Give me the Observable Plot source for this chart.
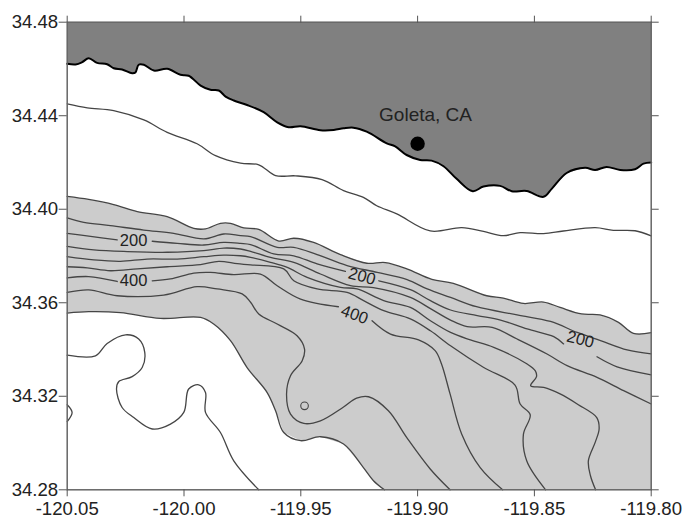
<!DOCTYPE html>
<html>
<head>
<meta charset="utf-8">
<script src="https://cdn.jsdelivr.net/npm/d3@7"></script>
<script src="https://cdn.jsdelivr.net/npm/@observablehq/plot@0.6"></script>
<style>html,body{margin:0;padding:0;background:#fff}svg{display:block}</style>
</head>
<body>
<div id="chart"></div>
<script>
const xTicks = [-120.05, -120.00, -119.95, -119.90, -119.85, -119.80];
const yTicks = [34.28, 34.32, 34.36, 34.40, 34.44, 34.48];

const coast = [[-120.05,34.4622],[-120.0464,34.4619],[-120.0436,34.4629],[-120.0408,34.4646],[-120.0372,34.4626],[-120.0329,34.462],[-120.0301,34.4603],[-120.0265,34.4598],[-120.0222,34.4582],[-120.0208,34.4585],[-120.0194,34.4618],[-120.0172,34.4618],[-120.0129,34.4593],[-120.0072,34.4601],[-120.0015,34.4575],[-119.998,34.4571],[-119.9929,34.4529],[-119.9887,34.4511],[-119.9851,34.4508],[-119.9822,34.4482],[-119.9787,34.4465],[-119.973,34.4446],[-119.9659,34.4415],[-119.9601,34.4372],[-119.9552,34.4351],[-119.9501,34.4355],[-119.9416,34.4338],[-119.9359,34.4339],[-119.9317,34.4346],[-119.9275,34.4349],[-119.9218,34.4332],[-119.9132,34.4282],[-119.9096,34.4269],[-119.9047,34.4232],[-119.8989,34.4211],[-119.894,34.4208],[-119.8889,34.4184],[-119.8833,34.413],[-119.8764,34.4077],[-119.8718,34.4097],[-119.8647,34.41],[-119.8597,34.4077],[-119.8533,34.4078],[-119.8461,34.4053],[-119.8426,34.4087],[-119.8362,34.4155],[-119.8283,34.4177],[-119.824,34.4168],[-119.8191,34.4181],[-119.8133,34.4168],[-119.8069,34.4171],[-119.8033,34.4195],[-119.80,34.42]];

const shelf = [[-120.05,34.4451],[-120.0414,34.4434],[-120.0301,34.4422],[-120.0172,34.4382],[-120.0072,34.4329],[-119.9944,34.428],[-119.9865,34.4229],[-119.9758,34.4197],[-119.968,34.419],[-119.9608,34.4144],[-119.9523,34.4143],[-119.9409,34.4127],[-119.9317,34.408],[-119.9232,34.4051],[-119.9175,34.4015],[-119.9089,34.398],[-119.8946,34.3907],[-119.8811,34.3921],[-119.8718,34.3905],[-119.8633,34.3887],[-119.8561,34.39],[-119.8461,34.3896],[-119.8376,34.3907],[-119.824,34.3921],[-119.8162,34.391],[-119.8069,34.3908],[-119.80,34.3886]];

const upperEdge = [[-120.05,34.4055],[-120.0408,34.4042],[-120.0301,34.402],[-120.02,34.399],[-120.0072,34.3968],[-119.9958,34.3918],[-119.9908,34.3916],[-119.9844,34.394],[-119.9801,34.394],[-119.9744,34.392],[-119.968,34.3914],[-119.9594,34.3864],[-119.953,34.3876],[-119.9445,34.3858],[-119.933,34.3806],[-119.9217,34.3769],[-119.9138,34.3772],[-119.9046,34.3745],[-119.8939,34.37],[-119.8847,34.3683],[-119.8704,34.363],[-119.8633,34.362],[-119.8547,34.3597],[-119.8461,34.3603],[-119.839,34.358],[-119.8298,34.3552],[-119.8219,34.3548],[-119.814,34.3516],[-119.8076,34.3469],[-119.80,34.3472]];

const lowerEdge = [[-120.05,34.3556],[-120.0408,34.3562],[-120.0272,34.3558],[-120.0101,34.3533],[-119.9929,34.3537],[-119.9873,34.3509],[-119.9801,34.3438],[-119.973,34.3323],[-119.9644,34.3216],[-119.9608,34.3138],[-119.9573,34.3045],[-119.9501,34.301],[-119.9416,34.3027],[-119.9317,34.2996],[-119.9232,34.2895],[-119.9189,34.2839],[-119.9142,34.28]];

const line1 = [[-120.05,34.3963],[-120.0429,34.3944],[-120.0315,34.393],[-120.0172,34.3911],[-120.0044,34.3897],[-119.9915,34.3873],[-119.983,34.3894],[-119.9758,34.3887],[-119.9715,34.3883],[-119.9601,34.3837],[-119.953,34.3837],[-119.943,34.3806],[-119.9302,34.3759],[-119.9173,34.373],[-119.9045,34.3699],[-119.8959,34.3659],[-119.8859,34.3623],[-119.8748,34.3583],[-119.8574,34.3548],[-119.8431,34.352],[-119.8317,34.3473],[-119.8217,34.3438],[-119.8103,34.3398],[-119.80,34.3381]];

const line2a = [[-120.05,34.3897],[-120.04,34.3884],[-120.0286,34.3869]];
const line2b = [[-120.0136,34.3863],[-120.0029,34.3854],[-119.9915,34.3847],[-119.983,34.3858],[-119.9758,34.3854],[-119.9715,34.3849],[-119.9616,34.3809],[-119.953,34.3801],[-119.943,34.3766],[-119.9309,34.3734]];
const line2c = [[-119.9166,34.3694],[-119.9031,34.3656],[-119.8945,34.3609],[-119.8859,34.3569],[-119.8745,34.3545],[-119.8645,34.3526],[-119.8531,34.3488],[-119.8417,34.3455],[-119.8375,34.3424]];
const line2d = [[-119.8232,34.3369],[-119.8146,34.3326],[-119.80,34.3292]];

const line3 = [[-120.05,34.3841],[-120.0386,34.3826],[-120.0243,34.3819],[-120.0072,34.3816],[-119.9915,34.3823],[-119.983,34.3834],[-119.9758,34.383],[-119.9715,34.382],[-119.963,34.3794],[-119.953,34.3773],[-119.9416,34.3723],[-119.9287,34.3673],[-119.9189,34.3665],[-119.9031,34.3623],[-119.8945,34.3575],[-119.8859,34.3526],[-119.8788,34.3498],[-119.8681,34.3495],[-119.8574,34.3445],[-119.8446,34.3381],[-119.836,34.3331],[-119.8232,34.3281],[-119.8118,34.3224],[-119.80,34.3167]];

const line4 = [[-120.05,34.3797],[-120.0386,34.3783],[-120.0272,34.3777],[-120.0158,34.3787],[-120.0029,34.3787],[-119.9915,34.3797],[-119.983,34.3804],[-119.9758,34.3801],[-119.9715,34.3794],[-119.963,34.3773],[-119.9558,34.3751],[-119.9473,34.3709],[-119.933,34.3666],[-119.9259,34.3659],[-119.9145,34.3609],[-119.9031,34.358],[-119.8945,34.3523],[-119.8859,34.3473],[-119.8774,34.3441],[-119.8674,34.3409],[-119.8531,34.3338],[-119.8496,34.3309],[-119.8491,34.3284],[-119.8516,34.3245],[-119.846,34.3238],[-119.839,34.321],[-119.8312,34.3164],[-119.8233,34.3109],[-119.8223,34.306],[-119.8239,34.3005],[-119.8269,34.2924],[-119.826,34.286],[-119.8238,34.28]];

const line5 = [[-120.05,34.3754],[-120.0414,34.3749],[-120.0315,34.3737],[-120.02,34.3745],[-120.0072,34.3754],[-119.9929,34.3763],[-119.9851,34.3777],[-119.9772,34.3767],[-119.9715,34.3762],[-119.9573,34.3745],[-119.953,34.3694],[-119.943,34.3659],[-119.9302,34.3644],[-119.9231,34.3609],[-119.9145,34.3566],[-119.9031,34.3531],[-119.8945,34.348],[-119.8859,34.3416],[-119.8717,34.3323],[-119.8583,34.3248],[-119.8561,34.3167],[-119.8518,34.3121],[-119.8547,34.3038],[-119.8533,34.2924],[-119.8452,34.28]];

const line6a = [[-120.05,34.3706],[-120.0408,34.3712],[-120.0286,34.3691]];
const line6b = [[-120.0136,34.3694],[-120.0058,34.3702],[-119.9958,34.3727],[-119.9887,34.373],[-119.9787,34.372],[-119.9673,34.3723],[-119.9601,34.3673],[-119.9501,34.3616],[-119.9339,34.3583]];
const line6c = [[-119.9195,34.3523],[-119.9116,34.3466],[-119.8996,34.3441],[-119.8925,34.3395],[-119.8898,34.3339],[-119.8861,34.321],[-119.8811,34.3038],[-119.8732,34.2895],[-119.8636,34.28]];

const line7 = [[-120.05,34.3644],[-120.0408,34.3655],[-120.0286,34.363],[-120.0087,34.3633],[-119.9944,34.3669],[-119.9858,34.3659],[-119.9751,34.3638],[-119.9715,34.3602],[-119.968,34.3552],[-119.9601,34.3509],[-119.9516,34.3459],[-119.9484,34.3402],[-119.9494,34.3352],[-119.9544,34.3288],[-119.9561,34.321],[-119.9544,34.3124],[-119.9487,34.3084],[-119.9416,34.3095],[-119.9317,34.3154],[-119.9261,34.3192],[-119.921,34.3198],[-119.9125,34.3138],[-119.9047,34.3024],[-119.8946,34.2889],[-119.8861,34.28]];

const line8 = [[-120.05,34.3376],[-120.0379,34.3373],[-120.0329,34.3426],[-120.025,34.3463],[-120.0194,34.3445],[-120.0168,34.3388],[-120.0179,34.3323],[-120.0222,34.3284],[-120.0279,34.3263],[-120.0289,34.3231],[-120.0265,34.3152],[-120.0215,34.3109],[-120.0136,34.306],[-120.0058,34.3081],[-120.0001,34.3131],[-119.998,34.3231],[-119.9937,34.3249],[-119.9908,34.3216],[-119.9908,34.3131],[-119.9844,34.3045],[-119.9787,34.2924],[-119.968,34.28]];

const arc = [[-120.05,34.3164],[-120.0479,34.3131],[-120.05,34.3092]];
const spot = [[-119.9484,34.3159]];
const town = [{name:"Goleta, CA", lon:-119.9, lat:34.428, labelLon:-119.8966, labelLat:34.4405}];
const depthLabels = [
  {text:"200", lon:-120.0216, lat:34.3866, angle:0},
  {text:"400", lon:-120.0216, lat:34.3693, angle:0},
  {text:"200", lon:-119.9238, lat:34.3713, angle:15},
  {text:"400", lon:-119.9270, lat:34.3549, angle:20},
  {text:"200", lon:-119.8303, lat:34.3443, angle:14}
];

const land = [...coast, [-119.80,34.48], [-120.05,34.48]];
const slope = [...upperEdge, [-119.80,34.28], ...lowerEdge.slice().reverse()];
const contours = [shelf, upperEdge, lowerEdge, line1, line2a, line2b, line2c, line2d, line3, line4, line5, line6a, line6b, line6c, line7, line8, arc];

const lon = d => d[0], lat = d => d[1];
const contourColor = "#454545";
const font = "'Liberation Sans', Arial, sans-serif";

const marks = [
  Plot.line(slope, {x: lon, y: lat, fill: "#cccccc", stroke: "none"}),
  Plot.line(land, {x: lon, y: lat, fill: "#808080", stroke: "none"}),
  ...contours.map(c => Plot.line(c, {x: lon, y: lat, stroke: contourColor, strokeWidth: 1.3, curve: "catmull-rom"})),
  Plot.line(coast, {x: lon, y: lat, stroke: "#000", strokeWidth: 2, curve: "catmull-rom"}),
  Plot.dot(spot, {x: lon, y: lat, r: 3.8, stroke: contourColor, strokeWidth: 1.1, fill: "#cccccc"}),
  Plot.dot(town, {x: "lon", y: "lat", r: 7.2, fill: "#000", stroke: "none"}),
  Plot.text(town, {x: "labelLon", y: "labelLat", text: "name", fontSize: 19, fill: "#222"}),
  Plot.text(depthLabels, {x: "lon", y: "lat", text: "text", rotate: "angle", fontSize: 16.5, fill: "#222"}),
  Plot.frame({stroke: "#666", strokeWidth: 1.5}),
  Plot.axisX({anchor: "bottom", ticks: xTicks, tickSize: 7, tickPadding: 5, tickFormat: d => d.toFixed(2), fontSize: 18.6, label: null, stroke: "#555", fill: "#222"}),
  Plot.axisX({anchor: "top", ticks: xTicks, tickSize: 7, tickFormat: () => "", label: null, stroke: "#555"}),
  Plot.axisY({anchor: "left", ticks: yTicks, tickSize: 8, tickPadding: 1, tickFormat: d => d.toFixed(2), fontSize: 18.6, label: null, stroke: "#555", fill: "#222"}),
  Plot.axisY({anchor: "right", ticks: yTicks, tickSize: 7, tickFormat: () => "", label: null, stroke: "#555"})
];

const chart = Plot.plot({
  width: 686,
  height: 518,
  marginLeft: 66.7,
  marginRight: 35.3,
  marginTop: 21.7,
  marginBottom: 28.7,
  style: {fontFamily: font, background: "#fff", overflow: "visible"},
  x: {domain: [-120.05, -119.80]},
  y: {domain: [34.28, 34.48]},
  marks
});
document.getElementById("chart").appendChild(chart);
</script>
</body>
</html>
